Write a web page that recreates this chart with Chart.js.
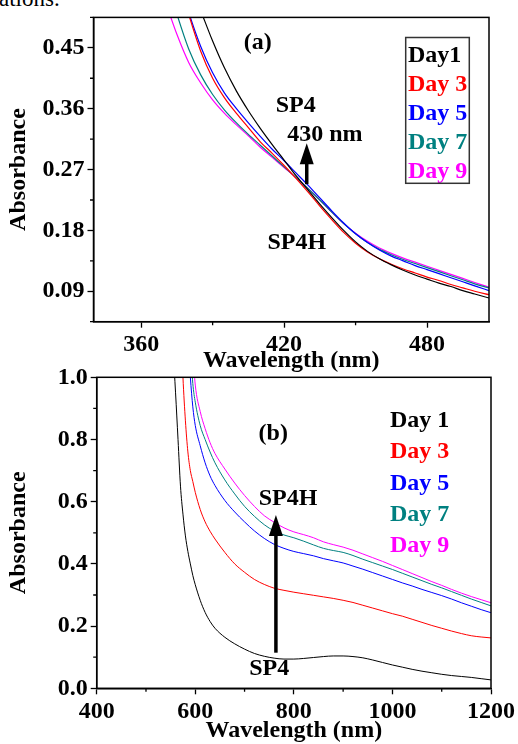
<!DOCTYPE html>
<html>
<head>
<meta charset="utf-8">
<script src="https://cdn.jsdelivr.net/npm/chart.js@4"></script>
<style>
  html, body { margin: 0; padding: 0; background: #fff; }
  body { width: 518px; height: 744px; position: relative; overflow: hidden; }
  canvas { position: absolute; left: 0; }
  #chartA { top: 0; }
  #chartB { top: 350px; }
  .cut { position: absolute; left: -1px; top: -13px; font: 23px/23px "Liberation Serif", "Times New Roman", serif; color: #000; }
</style>
</head>
<body>
<div class="cut">ations.</div>
<canvas id="chartA" width="518" height="380"></canvas>
<canvas id="chartB" width="518" height="400"></canvas>
<script>
// (a) zoom on the 430 nm band
const waveA = [365, 370, 375, 380, 385, 390, 395, 400, 405, 410, 415, 420, 425, 430, 435,
  440, 445, 450, 455, 460, 465, 470, 475, 480, 485, 490, 495, 500, 506];
const aDay1 = [null, null, null, 0.55, 0.505, 0.460, 0.420, 0.386, 0.357, 0.331, 0.307, 0.284, 0.261, 0.240, 0.219,
  0.199, 0.180, 0.163, 0.149, 0.138, 0.129, 0.121, 0.114, 0.108, 0.102, 0.097, 0.091, 0.086, 0.080];
const aDay3 = [null, null, 0.56, 0.499, 0.445, 0.405, 0.376, 0.353, 0.332, 0.311, 0.294, 0.276, 0.257, 0.237, 0.216,
  0.196, 0.177, 0.161, 0.148, 0.138, 0.130, 0.123, 0.117, 0.111, 0.106, 0.100, 0.095, 0.090, 0.085];
const aDay5 = [null, null, 0.56, 0.502, 0.452, 0.413, 0.383, 0.360, 0.339, 0.319, 0.300, 0.283, 0.265, 0.247, 0.228,
  0.209, 0.191, 0.175, 0.162, 0.151, 0.142, 0.135, 0.128, 0.122, 0.116, 0.110, 0.104, 0.098, 0.091];
const aDay7 = [null, 0.56, 0.50, 0.448, 0.410, 0.381, 0.358, 0.339, 0.322, 0.306, 0.290, 0.274, 0.258, 0.242, 0.225,
  0.207, 0.190, 0.175, 0.162, 0.152, 0.144, 0.137, 0.131, 0.125, 0.119, 0.113, 0.107, 0.101, 0.095];
const aDay9 = [0.57, 0.52, 0.47, 0.428, 0.398, 0.373, 0.353, 0.336, 0.320, 0.303, 0.288, 0.273, 0.258, 0.242, 0.225,
  0.207, 0.190, 0.176, 0.164, 0.154, 0.146, 0.139, 0.133, 0.127, 0.121, 0.115, 0.109, 0.103, 0.096];

// (b) full range
const waveB = [555, 560, 565, 570, 575, 580, 585, 590, 595, 600, 610, 620, 630, 640, 660, 680, 700, 720, 740, 760, 780,
  800, 820, 840, 860, 880, 900, 920, 940, 960, 980, 1000, 1020, 1040, 1060, 1080, 1100, 1120, 1140, 1160, 1180, 1200];
const bDay1 = [1.09, 0.95, 0.80, 0.65, 0.56, 0.49, 0.44, 0.40, 0.363, 0.333, 0.283, 0.244, 0.215, 0.193, 0.164, 0.143, 0.126, 0.112, 0.103, 0.097, 0.094,
  0.094, 0.096, 0.099, 0.102, 0.104, 0.104, 0.102, 0.098, 0.091, 0.083, 0.075, 0.068, 0.061, 0.055, 0.050, 0.045, 0.041, 0.038, 0.035, 0.031, 0.027];
const bDay3 = [null, null, null, 1.2, 1.0, 0.86, 0.76, 0.70, 0.665, 0.63, 0.575, 0.535, 0.505, 0.48, 0.437, 0.40, 0.373, 0.350, 0.334, 0.322, 0.315,
  0.309, 0.304, 0.299, 0.294, 0.289, 0.283, 0.276, 0.267, 0.258, 0.249, 0.240, 0.232, 0.222, 0.212, 0.202, 0.193, 0.184, 0.176, 0.169, 0.165, 0.162];
const bDay5 = [null, null, null, null, null, null, 1.12, 1.0, 0.905, 0.845, 0.78, 0.725, 0.683, 0.652, 0.604, 0.567, 0.535, 0.506, 0.482, 0.463, 0.450,
  0.440, 0.433, 0.426, 0.417, 0.410, 0.403, 0.393, 0.383, 0.372, 0.361, 0.350, 0.339, 0.329, 0.318, 0.308, 0.298, 0.287, 0.275, 0.264, 0.253, 0.243];
const bDay7 = [null, null, null, null, null, null, null, 1.1, 0.98, 0.92, 0.845, 0.80, 0.76, 0.725, 0.67, 0.625, 0.585, 0.553, 0.526, 0.506, 0.493,
  0.484, 0.473, 0.461, 0.450, 0.443, 0.437, 0.427, 0.415, 0.404, 0.393, 0.382, 0.370, 0.358, 0.346, 0.334, 0.323, 0.311, 0.299, 0.287, 0.276, 0.265];
const bDay9 = [null, null, null, null, null, null, null, null, 1.08, 0.975, 0.89, 0.835, 0.79, 0.755, 0.705, 0.66, 0.62, 0.585, 0.555, 0.534, 0.516,
  0.503, 0.494, 0.484, 0.471, 0.462, 0.454, 0.444, 0.432, 0.420, 0.408, 0.395, 0.382, 0.369, 0.356, 0.343, 0.331, 0.318, 0.306, 0.295, 0.285, 0.275];

const namesA = ["Day1", "Day 3", "Day 5", "Day 7", "Day 9"];
const namesB = ["Day 1", "Day 3", "Day 5", "Day 7", "Day 9"];
const dayColors = ["#000000", "#ff0000", "#0000ff", "#008080", "#ff00ff"];

// axis ticks (labelled + unlabelled minor)
const aTicksX = [360, 420, 480];
const aMinorX = [390, 450];
const aTicksY = [0.09, 0.18, 0.27, 0.36, 0.45];
const aMinorY = [0.045, 0.135, 0.225, 0.315, 0.405, 0.495];
const bTicksX = [400, 600, 800, 1000, 1200];
const bMinorX = [500, 700, 900, 1100];
const bTicksY = [0, 0.2, 0.4, 0.6, 0.8, 1.0];
const bMinorY = [0.1, 0.3, 0.5, 0.7, 0.9];

const FONT = '"Liberation Serif", "Times New Roman", serif';
const tickFont = { family: FONT, size: 24, weight: "bold" };

function toPoints(wave, vals) {
  return wave.map((x, i) => ({ x, y: vals[i] })).filter(p => p.y !== null);
}

// frame, minor ticks, notes, arrow and the text legend
const decor = {
  id: "decor",
  afterDraw(chart, args, o) {
    const { ctx, chartArea: ca } = chart;
    const x = chart.scales.x, y = chart.scales.y;
    ctx.save();
    ctx.strokeStyle = "#000";
    ctx.lineWidth = 1.5;
    ctx.strokeRect(ca.left, ca.top, ca.right - ca.left, ca.bottom - ca.top);

    ctx.lineWidth = 1.3;
    ctx.beginPath();
    o.minorX.forEach(v => {
      const px = x.getPixelForValue(v);
      ctx.moveTo(px, ca.bottom);
      ctx.lineTo(px, ca.bottom + 3.5);
    });
    o.minorY.forEach(v => {
      const py = y.getPixelForValue(v);
      ctx.moveTo(ca.left, py);
      ctx.lineTo(ca.left - 3.5, py);
    });
    ctx.stroke();

    ctx.font = "bold 24px " + FONT;
    ctx.fillStyle = "#000";
    ctx.textAlign = "center";
    ctx.textBaseline = "alphabetic";
    o.notes.forEach(n => ctx.fillText(n.text, x.getPixelForValue(n.x), y.getPixelForValue(n.y)));

    // upward arrow
    const ax = x.getPixelForValue(o.arrow.x);
    const y0 = y.getPixelForValue(o.arrow.from);
    const y1 = y.getPixelForValue(o.arrow.to);
    ctx.lineWidth = 3.5;
    ctx.beginPath();
    ctx.moveTo(ax, y0);
    ctx.lineTo(ax, y1 + 18);
    ctx.stroke();
    ctx.beginPath();
    ctx.moveTo(ax, y1);
    ctx.lineTo(ax - 7, y1 + 21);
    ctx.lineTo(ax + 7, y1 + 21);
    ctx.closePath();
    ctx.fill();

    const lg = o.legend;
    ctx.textAlign = "left";
    lg.items.forEach((t, i) => {
      ctx.fillStyle = dayColors[i];
      ctx.fillText(t, lg.x, lg.y + i * lg.step);
    });
    if (lg.box) {
      ctx.strokeStyle = "#333";
      ctx.lineWidth = 1.5;
      ctx.strokeRect(lg.box[0], lg.box[1], lg.box[2], lg.box[3]);
    }
    ctx.restore();
  }
};

function axis(min, max, ticks, fmt, title, extra) {
  return Object.assign({
    type: "linear",
    min, max,
    afterBuildTicks: s => { s.ticks = ticks.map(v => ({ value: v })); },
    ticks: { font: tickFont, color: "#000", maxRotation: 0, autoSkip: false, callback: fmt },
    grid: { drawOnChartArea: false, color: "#000", tickLength: 6, tickWidth: 1.3 },
    border: { color: "#000", width: 1.5 },
    title: { display: true, text: title, color: "#000", font: tickFont }
  }, extra);
}

function makeChart(id, wave, series, names, width, opts) {
  return new Chart(document.getElementById(id), {
    type: "line",
    data: {
      datasets: series.map((s, i) => ({
        label: names[i],
        data: toPoints(wave, s),
        borderColor: dayColors[i],
        borderWidth: width,
        pointRadius: 0,
        fill: false,
        cubicInterpolationMode: "monotone"
      }))
    },
    options: opts,
    plugins: [decor]
  });
}

Chart.defaults.font.family = FONT;

makeChart("chartA", waveA, [aDay1, aDay3, aDay5, aDay7, aDay9], namesA, 1.2, {
  responsive: false,
  animation: false,
  devicePixelRatio: 1,
  layout: { padding: { top: 12.7, left: 0, right: 29, bottom: 0.6 } },
  scales: {
    x: axis(340, 506, aTicksX, v => String(v), "Wavelength (nm)", {
      afterFit: s => { s.height = 57.7; }
    }),
    y: axis(0.045, 0.495, aTicksY, v => v.toFixed(2), "Absorbance", {
      afterFit: s => { s.width = 93.5; }
    })
  },
  plugins: {
    legend: { display: false },
    tooltip: { enabled: false },
    decor: {
      minorX: aMinorX,
      minorY: aMinorY,
      notes: [
        { text: "(a)", x: 408.9, y: 0.448 },
        { text: "SP4", x: 424.9, y: 0.3556 },
        { text: "430 nm", x: 437.1, y: 0.3124 },
        { text: "SP4H", x: 425.3, y: 0.1531 }
      ],
      arrow: { x: 429.5, from: 0.2484, to: 0.3088 },
      legend: { items: namesA, x: 408, y: 61.7, step: 29, box: [405.7, 37.5, 63.6, 145.8] }
    }
  }
});

makeChart("chartB", waveB, [bDay1, bDay3, bDay5, bDay7, bDay9], namesB, 1, {
  responsive: false,
  animation: false,
  devicePixelRatio: 1,
  layout: { padding: { top: 27.3, left: 0, right: 25.3, bottom: 0.6 } },
  scales: {
    x: axis(400, 1200, bTicksX, v => String(v), "Wavelength (nm)", {
      afterFit: s => { s.height = 61.1; }
    }),
    y: axis(0, 1, bTicksY, v => v.toFixed(1), "Absorbance", {
      afterFit: s => { s.width = 96.7; }
    })
  },
  plugins: {
    legend: { display: false },
    tooltip: { enabled: false },
    decor: {
      minorX: bMinorX,
      minorY: bMinorY,
      notes: [
        { text: "(b)", x: 758.2, y: 0.798 },
        { text: "SP4H", x: 788.1, y: 0.589 },
        { text: "SP4", x: 750.1, y: 0.0428 }
      ],
      arrow: { x: 763.6, from: 0.1145, to: 0.557 },
      legend: { items: namesB, x: 390, y: 77.3, step: 31.1, box: null }
    }
  }
});
</script>
</body>
</html>
